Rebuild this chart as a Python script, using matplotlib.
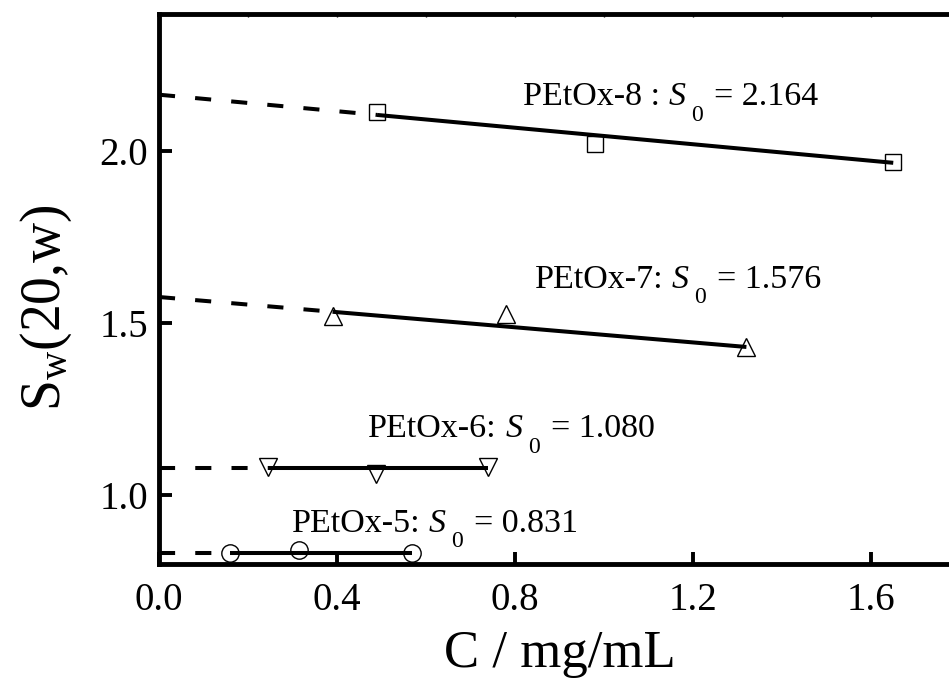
import numpy as np
import matplotlib
matplotlib.use("Agg")
import matplotlib.pyplot as plt

plt.rcParams['font.family'] = ['Liberation Serif', 'DejaVu Serif']
plt.rcParams['mathtext.fontset'] = 'custom'
plt.rcParams['mathtext.rm'] = 'Liberation Serif'
plt.rcParams['mathtext.it'] = 'Liberation Serif:italic'

# Data
names = ["PEtOx-8 :", "PEtOx-7:", "PEtOx-6:", "PEtOx-5:"]
c8 = [0.49, 0.98, 1.65]
s8 = [2.115, 2.02, 1.968]
c7 = [0.39, 0.78, 1.32]
s7 = [1.522, 1.527, 1.432]
c6 = [0.245, 0.488, 0.739]
s6 = [1.081, 1.061, 1.081]
c5 = [0.16, 0.315, 0.569]
s5 = [0.832, 0.841, 0.832]
S0 = [2.164, 1.576, 1.080, 0.831]
slopes = [-0.12, -0.11, 0.0, 0.0]
markers = ["s", "^", "v", "o"]
label_pos = [(0.818, 2.133), (0.845, 1.603), (0.470, 1.168), (0.299, 0.893)]
xticks = [0.0, 0.4, 0.8, 1.2, 1.6]
yticks = [1.0, 1.5, 2.0]

conc = [c8, c7, c6, c5]
sed = [s8, s7, s6, s5]
msize = {"s": 11.5, "^": 13, "v": 13, "o": 12.5}

fig = plt.figure(figsize=(9.49, 6.84), dpi=100)
ax = fig.add_axes([159/949, 1-564/684, 801/949, (564-13.5)/684])

FS = 24.5
SUB = 17


def s0_label(x, y, name, value):
    t1 = ax.text(x, y, name, fontsize=FS, ha='left', va='baseline')
    tS = ax.annotate("S", xy=(1, y), xycoords=(t1, 'data'), xytext=(6, 0),
                     textcoords='offset points', fontsize=FS, style='italic',
                     ha='left', va='baseline')
    t0 = ax.annotate("0", xy=(1, y), xycoords=(tS, 'data'), xytext=(4, -11),
                     textcoords='offset points', fontsize=SUB,
                     ha='left', va='baseline')
    ax.annotate("= " + f"{value:.3f}", xy=(1, y), xycoords=(t0, 'data'),
                xytext=(8, 0), textcoords='offset points', fontsize=FS,
                ha='left', va='baseline')


for c, s, s0, k, m, nm, lp in zip(conc, sed, S0, slopes, markers, names, label_pos):
    c = np.array(c)
    x_solid = np.array([c.min(), c.max()])
    ax.plot(x_solid, s0 + k*x_solid, color='black', lw=2.9, solid_capstyle='butt', zorder=2)
    x_dash = np.array([0.0, c.min()])
    ax.plot(x_dash, s0 + k*x_dash, color='black', lw=2.9, dashes=(4.0, 5.0),
            dash_capstyle='butt', zorder=2)
    ax.plot(c, s, linestyle='none', marker=m, markersize=msize[m],
            markerfacecolor='none', markeredgecolor='black', markeredgewidth=1.0, zorder=3)
    s0_label(lp[0], lp[1], nm, s0)

ax.set_xlim(0, 1.8)
ax.set_ylim(0.8, 2.4)
ax.set_xticks(xticks)
ax.set_xticklabels([f"{v:.1f}" for v in xticks])
ax.set_yticks(yticks)
ax.set_yticklabels([f"{v:.1f}" for v in yticks])

for sp in ax.spines.values():
    sp.set_linewidth(3.5)
ax.spines['right'].set_visible(False)

ax.tick_params(axis='both', which='major', direction='in', length=9, width=2.8,
               labelsize=28, top=False, right=False)
ax.tick_params(axis='x', which='major', pad=13)
ax.tick_params(axis='y', which='major', pad=8)

# small ticks along the top spine
sec = ax.secondary_xaxis('top')
sec.set_xticks(np.arange(0.2, 1.8, 0.2))
sec.tick_params(direction='in', length=3, width=1, labeltop=False)
sec.spines['top'].set_visible(False)

ax.set_xlabel("C / mg/mL", fontsize=38, labelpad=8)
ax.set_ylabel(r"S$_\mathrm{w}$(20,w)", fontsize=40)
ax.yaxis.set_label_coords(-0.106, 0.465)

fig.savefig("out.png", dpi=100)
